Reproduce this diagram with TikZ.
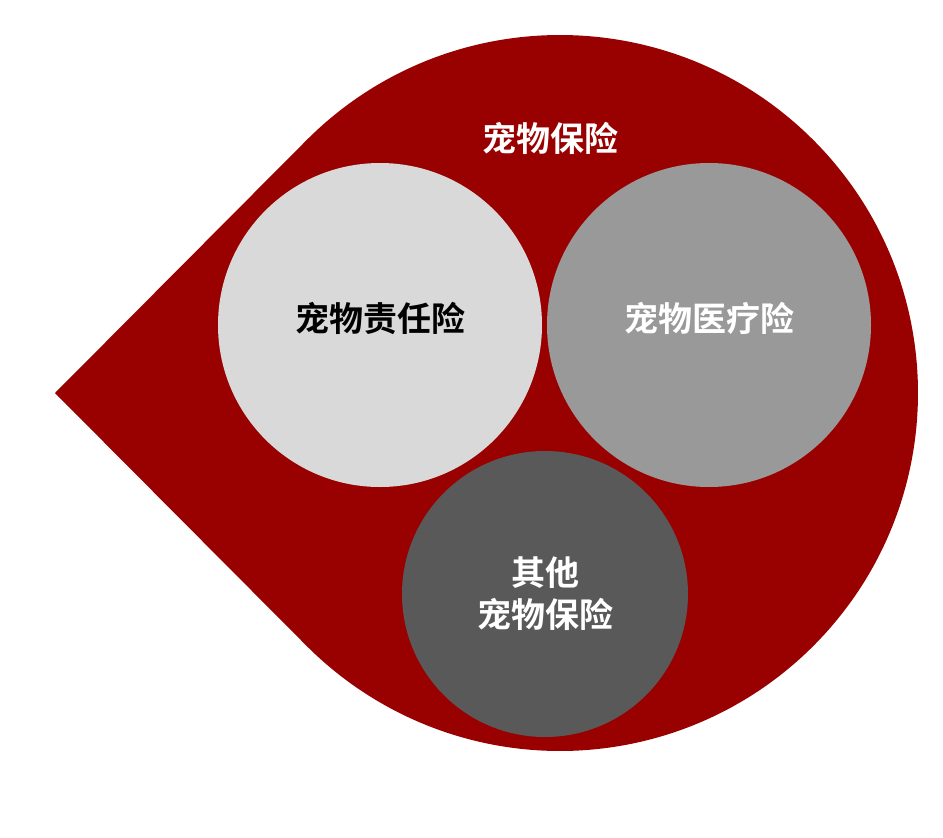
\documentclass[tikz,border=0pt]{standalone}
\usepackage{fontspec}
\newfontfamily\cjk{Noto Sans CJK SC}[BoldFont={Noto Sans CJK SC Bold}]
\usepackage{tikz}
\usetikzlibrary{calc}
\definecolor{dropred}{RGB}{153,0,0}
\definecolor{palegray}{RGB}{217,217,217}
\definecolor{midgray}{RGB}{153,153,153}
\definecolor{darkgray}{RGB}{89,89,89}

\begin{document}
\begin{tikzpicture}[x=1pt,y=-1pt,
  every node/.style={font=\cjk\bfseries\fontsize{34}{42}\selectfont, align=center},
  pool/.style={circle, inner sep=0pt, minimum size=#1}]
\useasboundingbox (0,0) rectangle (943,838);
\coordinate (tip) at (55,393);
\coordinate (ctr) at (560,393);
\fill[dropred] (tip) -- ($(ctr)+(-135.15:358)$) arc[start angle=-135.15, end angle=135.15, radius=358] -- cycle;
\node[text=white] (pet) at (550,138) {宠物保险};
\node[pool=324pt, fill=palegray, text=black, text depth=17pt] (liab) at (380,325) {宠物责任险};
\node[pool=324pt, fill=midgray, text=white, text depth=17pt] (med) at (709,325) {宠物医疗险};
\node[pool=286pt, fill=darkgray, text=white] (other) at (545,594) {其他\\宠物保险};
\end{tikzpicture}
\end{document}
